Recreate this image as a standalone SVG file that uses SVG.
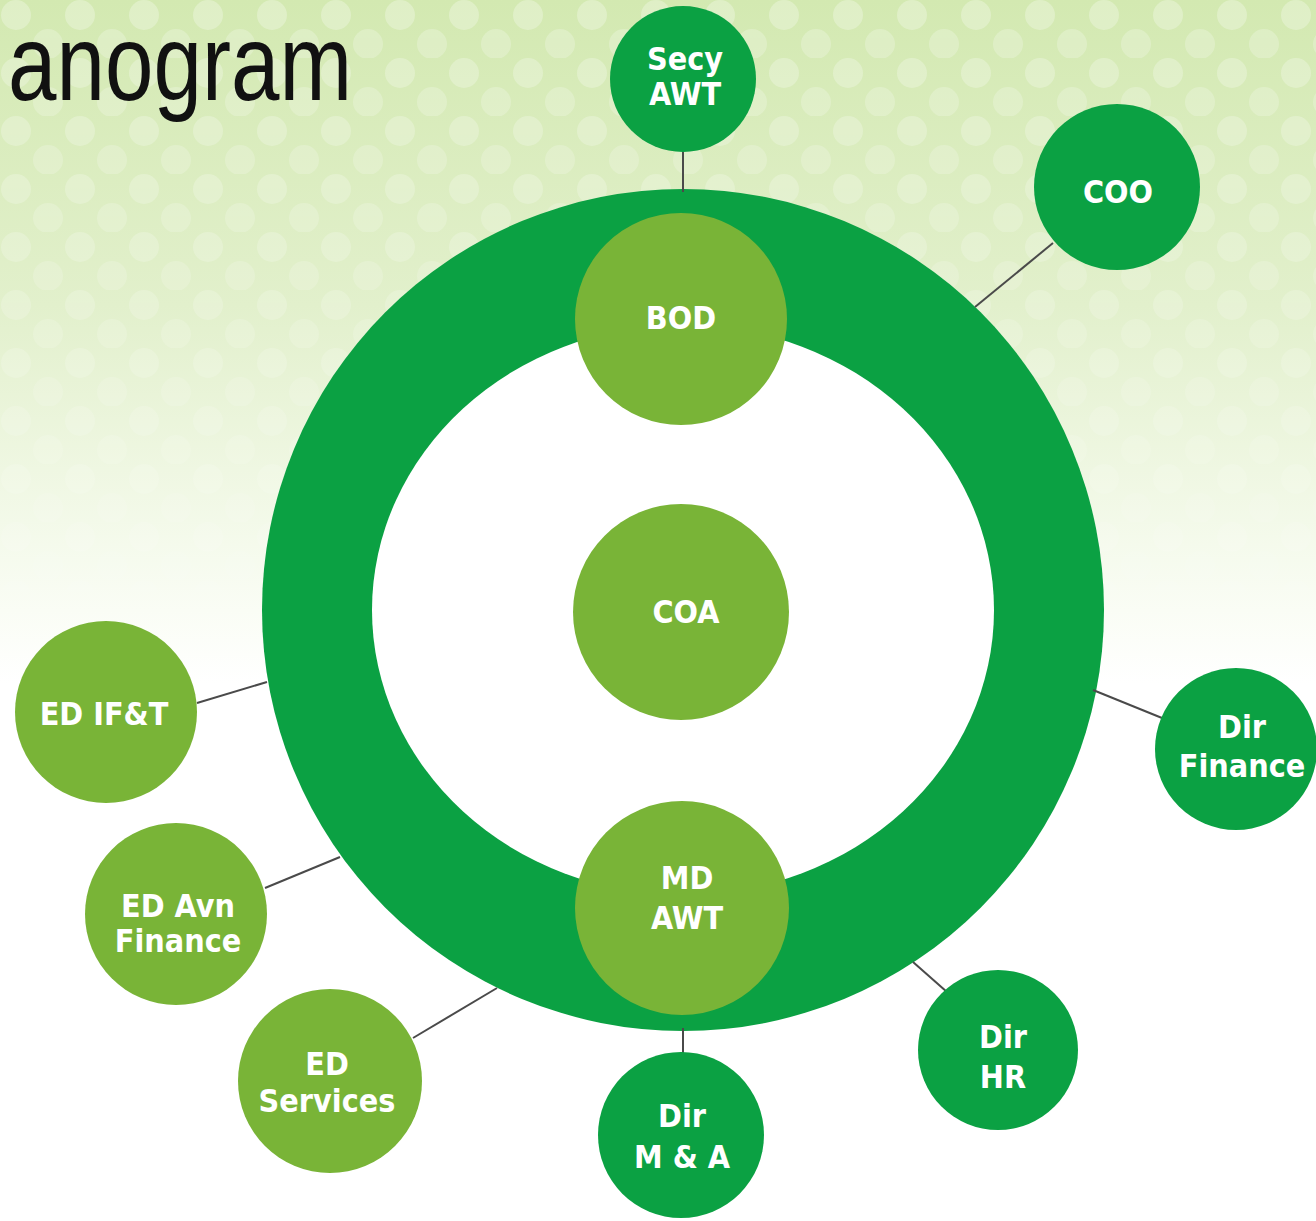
<svg xmlns="http://www.w3.org/2000/svg" width="1316" height="1221" viewBox="0 0 1316 1221">
<defs>
<linearGradient id="bg" x1="0" y1="0" x2="0" y2="1221" gradientUnits="userSpaceOnUse">
<stop offset="0" stop-color="#d3e9b1"/>
<stop offset="0.25" stop-color="#e2f0cc"/>
<stop offset="0.5" stop-color="#fafdf5"/>
<stop offset="0.56" stop-color="#ffffff"/>
</linearGradient>
<linearGradient id="fade" x1="0" y1="0" x2="0" y2="1221" gradientUnits="userSpaceOnUse">
<stop offset="0" stop-color="#fff" stop-opacity="1"/>
<stop offset="0.45" stop-color="#fff" stop-opacity="0.4"/>
<stop offset="0.55" stop-color="#fff" stop-opacity="0"/>
</linearGradient>
<mask id="bokehMask">
<rect width="1316" height="1221" fill="url(#fade)"/>
</mask>
<pattern id="bokeh" width="64" height="58" patternUnits="userSpaceOnUse">
<circle cx="16" cy="15" r="15" fill="#ffffff" fill-opacity="0.28"/>
<circle cx="48" cy="44" r="15" fill="#ffffff" fill-opacity="0.24"/>
</pattern>
<style>
.dark{fill:#0ba143;}
.light{fill:#79b437;}
.lbl{fill:#ffffff;font-family:"DejaVu Sans Condensed","DejaVu Sans",sans-serif;font-weight:bold;font-size:32px;text-anchor:middle;}
.conn{stroke:#4a4a4a;stroke-width:2;fill:none;}
</style>
</defs>
<rect width="1316" height="1221" fill="url(#bg)"/>
<rect width="1316" height="1221" fill="url(#bokeh)" mask="url(#bokehMask)"/>
<text x="8" y="100" font-family="'Liberation Sans',Arial,sans-serif" font-size="108" fill="#111111" textLength="344" lengthAdjust="spacingAndGlyphs">anogram</text>

<g id="ring">
<circle cx="683" cy="610" r="421" fill="#0ba143"/>
<ellipse cx="683" cy="610" rx="311" ry="285" fill="#ffffff"/>
</g>

<g id="connectors">
<line class="conn" x1="683" y1="152" x2="683" y2="192"/>
<line class="conn" x1="1053" y1="243" x2="975" y2="307"/>
<line class="conn" x1="1093" y1="690" x2="1162" y2="718"/>
<line class="conn" x1="197" y1="703" x2="267" y2="682"/>
<line class="conn" x1="265" y1="888" x2="340" y2="857"/>
<line class="conn" x1="413" y1="1038" x2="497" y2="988"/>
<line class="conn" x1="683" y1="1028" x2="683" y2="1056"/>
<line class="conn" x1="913" y1="962" x2="947" y2="992"/>
</g>

<g id="secy">
<circle class="dark" cx="683" cy="79" r="73"/>
<text class="lbl" x="685" y="70" font-size="28">Secy</text>
<text class="lbl" x="685" y="105" font-size="28">AWT</text>
</g>
<g id="coo">
<circle class="dark" cx="1117" cy="187" r="83"/>
<text class="lbl" x="1118" y="203" font-size="38">COO</text>
</g>
<g id="bod">
<circle class="light" cx="681" cy="319" r="106"/>
<text class="lbl" x="681" y="329" font-size="34">BOD</text>
</g>
<g id="coa">
<circle class="light" cx="681" cy="612" r="108"/>
<text class="lbl" x="686" y="623" font-size="34">COA</text>
</g>
<g id="md">
<circle class="light" cx="682" cy="908" r="107"/>
<text class="lbl" x="687" y="889" font-size="34">MD</text>
<text class="lbl" x="687" y="929" font-size="34">AWT</text>
</g>
<g id="dirfinance">
<circle class="dark" cx="1236" cy="749" r="81"/>
<text class="lbl" x="1242" y="738">Dir</text>
<text class="lbl" x="1242" y="777">Finance</text>
</g>
<g id="edift">
<circle class="light" cx="106" cy="712" r="91"/>
<text class="lbl" x="104" y="725">ED IF&amp;T</text>
</g>
<g id="edavn">
<circle class="light" cx="176" cy="914" r="91"/>
<text class="lbl" x="178" y="917">ED Avn</text>
<text class="lbl" x="178" y="952">Finance</text>
</g>
<g id="edservices">
<circle class="light" cx="330" cy="1081" r="92"/>
<text class="lbl" x="327" y="1075">ED</text>
<text class="lbl" x="327" y="1112">Services</text>
</g>
<g id="dirma">
<circle class="dark" cx="681" cy="1135" r="83"/>
<text class="lbl" x="682" y="1127" font-size="34">Dir</text>
<text class="lbl" x="682" y="1168" font-size="34">M &amp; A</text>
</g>
<g id="dirhr">
<circle class="dark" cx="998" cy="1050" r="80"/>
<text class="lbl" x="1003" y="1048" font-size="34">Dir</text>
<text class="lbl" x="1003" y="1088" font-size="34">HR</text>
</g>
</svg>
